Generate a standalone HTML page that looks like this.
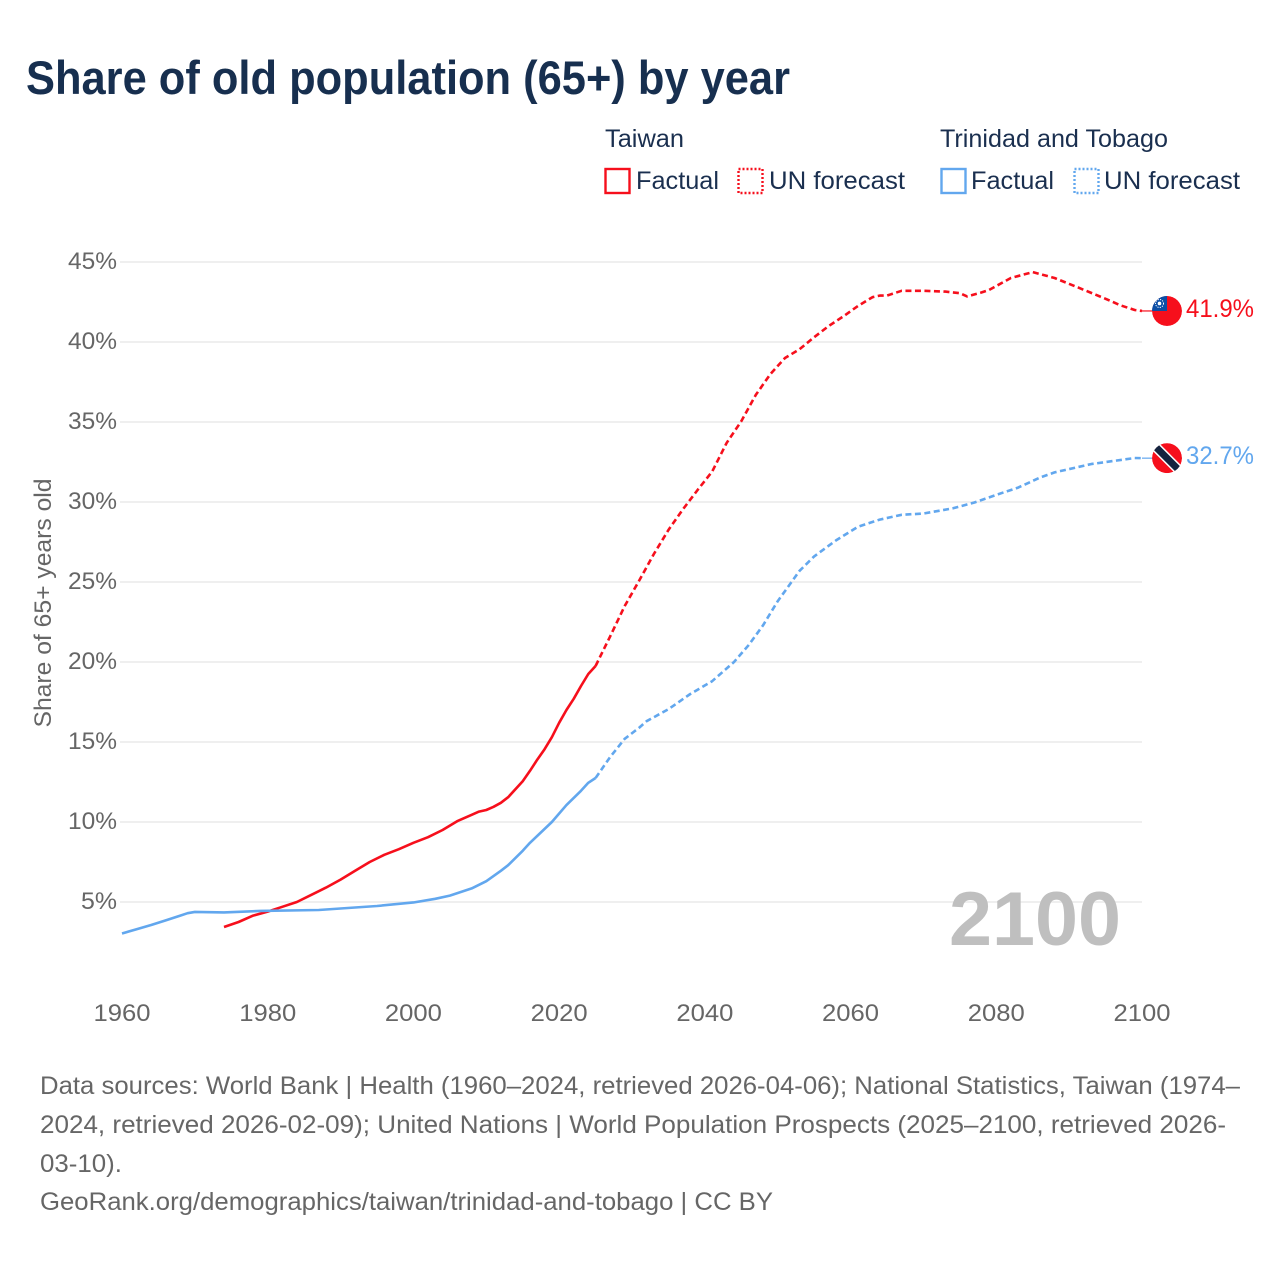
<!DOCTYPE html>
<html>
<head>
<meta charset="utf-8">
<title>Share of old population (65+) by year</title>
<style>
html,body{margin:0;padding:0;background:#fff;width:1280px;height:1280px;overflow:hidden}
svg{display:block}
text{font-family:"Liberation Sans",sans-serif}
.legend{fill:#1a2f4f;font-size:25px}
.tick{fill:#666;font-size:24px}
.foot{fill:#666;font-size:25px}
</style>
</head>
<body>
<svg id="chart" width="1280" height="1280" viewBox="0 0 1280 1280">
  <defs>
    <clipPath id="flag-clip"><circle cx="0" cy="0" r="15"/></clipPath>
  </defs>
  <rect x="0" y="0" width="1280" height="1280" fill="#fff"/>
  <text x="26" y="94" font-size="47" font-weight="700" fill="#172f4f" textLength="764" lengthAdjust="spacingAndGlyphs">Share of old population (65+) by year</text>

  <g>
    <text class="legend" x="605" y="147" textLength="79" lengthAdjust="spacingAndGlyphs">Taiwan</text>
    <rect x="605.5" y="169" width="24" height="24" fill="none" stroke="#f60f1c" stroke-width="2.4"/>
    <text class="legend" x="636" y="189" textLength="83" lengthAdjust="spacingAndGlyphs">Factual</text>
    <rect x="738.5" y="169" width="24" height="24" fill="none" stroke="#f60f1c" stroke-width="2.4" stroke-dasharray="2 2"/>
    <text class="legend" x="769" y="189" textLength="136" lengthAdjust="spacingAndGlyphs">UN forecast</text>
    <text class="legend" x="940" y="147" textLength="228" lengthAdjust="spacingAndGlyphs">Trinidad and Tobago</text>
    <rect x="941.5" y="169" width="24" height="24" fill="none" stroke="#62a7ee" stroke-width="2.4"/>
    <text class="legend" x="971" y="189" textLength="83" lengthAdjust="spacingAndGlyphs">Factual</text>
    <rect x="1074.5" y="169" width="24" height="24" fill="none" stroke="#62a7ee" stroke-width="2.4" stroke-dasharray="2 2"/>
    <text class="legend" x="1104" y="189" textLength="136" lengthAdjust="spacingAndGlyphs">UN forecast</text>
  </g>

  <g id="grid"></g>
  <g id="yticks"></g>
  <g id="xticks"></g>
  <text x="51" y="603" transform="rotate(-90 51 603)" text-anchor="middle" font-size="24" fill="#666" textLength="249" lengthAdjust="spacingAndGlyphs">Share of 65+ years old</text>
  <text x="949" y="945" font-size="76" font-weight="700" fill="#bfbfbf" textLength="172" lengthAdjust="spacingAndGlyphs">2100</text>
  <g id="series"></g>

  <g>
    <text class="foot" x="40" y="1094" textLength="1200" lengthAdjust="spacingAndGlyphs">Data sources: World Bank | Health (1960–2024, retrieved 2026-04-06); National Statistics, Taiwan (1974–</text>
    <text class="foot" x="40" y="1133" textLength="1186" lengthAdjust="spacingAndGlyphs">2024, retrieved 2026-02-09); United Nations | World Population Prospects (2025–2100, retrieved 2026-</text>
    <text class="foot" x="40" y="1172" textLength="82" lengthAdjust="spacingAndGlyphs">03-10).</text>
    <text class="foot" x="40" y="1210" textLength="733" lengthAdjust="spacingAndGlyphs">GeoRank.org/demographics/taiwan/trinidad-and-tobago | CC BY</text>
  </g>
</svg>
<script>
var yTickValues = [5, 10, 15, 20, 25, 30, 35, 40, 45];
var xTickYears = [1960, 1980, 2000, 2020, 2040, 2060, 2080, 2100];

var taiwanFactualYears = [1974, 1976, 1978, 1980, 1982, 1984, 1986, 1988, 1990, 1992, 1994, 1996, 1998, 2000, 2002, 2004, 2006, 2008, 2009, 2010, 2011, 2012, 2013, 2015, 2016, 2017, 2018, 2019, 2020, 2021, 2022, 2023, 2024, 2025];
var taiwanFactualValues = [3.44, 3.75, 4.15, 4.4, 4.7, 5.0, 5.45, 5.9, 6.4, 6.95, 7.5, 7.95, 8.3, 8.7, 9.05, 9.5, 10.05, 10.45, 10.65, 10.75, 10.95, 11.2, 11.55, 12.55, 13.2, 13.9, 14.55, 15.3, 16.2, 17.0, 17.7, 18.5, 19.25, 19.75];
var taiwanForecastYears = [2025, 2027, 2029, 2031, 2033, 2035, 2037, 2039, 2041, 2043, 2045, 2047, 2049, 2051, 2053, 2055, 2057, 2059, 2061, 2063, 2064, 2065, 2067, 2070, 2073, 2075, 2076, 2078, 2079, 2080, 2082, 2085, 2088, 2091, 2095, 2097, 2099, 2100];
var taiwanForecastValues = [19.75, 21.6, 23.5, 25.1, 26.75, 28.25, 29.55, 30.75, 31.9, 33.7, 35.05, 36.7, 38.0, 39.0, 39.55, 40.3, 41.0, 41.6, 42.25, 42.8, 42.9, 42.9, 43.2, 43.2, 43.15, 43.05, 42.85, 43.1, 43.25, 43.5, 44.0, 44.37, 44.0, 43.45, 42.7, 42.3, 42.0, 41.94];

var trinidadFactualYears = [1960, 1962, 1964, 1966, 1968, 1969, 1970, 1974, 1979, 1987, 1995, 2000, 2003, 2005, 2008, 2010, 2012, 2013, 2015, 2016, 2019, 2021, 2023, 2024, 2025];
var trinidadFactualValues = [3.03, 3.3, 3.56, 3.85, 4.15, 4.3, 4.38, 4.35, 4.44, 4.5, 4.75, 4.97, 5.2, 5.4, 5.85, 6.3, 6.95, 7.3, 8.2, 8.7, 10.0, 11.06, 11.95, 12.45, 12.75];
var trinidadForecastYears = [2025, 2027, 2029, 2031, 2032, 2035, 2038, 2041, 2044, 2046, 2048, 2050, 2053, 2055, 2058, 2061, 2064, 2067, 2070, 2074, 2077, 2081, 2083, 2086, 2088, 2093, 2096, 2099, 2100];
var trinidadForecastValues = [12.75, 14.06, 15.2, 15.9, 16.3, 17.05, 18.0, 18.8, 20.0, 21.05, 22.3, 23.8, 25.7, 26.6, 27.6, 28.45, 28.9, 29.2, 29.28, 29.6, 29.97, 30.6, 30.9, 31.53, 31.85, 32.37, 32.56, 32.75, 32.74];

var NS = 'http://www.w3.org/2000/svg';
var RED = '#f60f1c';
var BLUE = '#62a7ee';

function xScale(year) { return 122 + (year - 1960) * (1020 / 140); }
function yScale(value) { return 982 - value * 16; }

function make(tag, attrs, parent) {
  var el = document.createElementNS(NS, tag);
  for (var k in attrs) { el.setAttribute(k, attrs[k]); }
  parent.appendChild(el);
  return el;
}

var grid = document.getElementById('grid');
var yticks = document.getElementById('yticks');
var xticks = document.getElementById('xticks');
var series = document.getElementById('series');

yTickValues.forEach(function (v) {
  var line = make('line', { x1: 120, x2: 1142, y1: yScale(v), y2: yScale(v), stroke: '#efefef', 'stroke-width': 2 }, grid);
  
  
  var label = make('text', { x: 117, y: yScale(v) + 7, 'text-anchor': 'end', class: 'tick' }, yticks);
  label.textContent = v + '%';
  
  
  label.setAttribute('textLength', v < 10 ? 36 : 49);
  label.setAttribute('lengthAdjust', 'spacingAndGlyphs');
});

xTickYears.forEach(function (year) {
  var label = make('text', { x: xScale(year), y: 1021, 'text-anchor': 'middle', class: 'tick' }, xticks);
  label.textContent = String(year);
  
  
  label.setAttribute('textLength', 57);
  label.setAttribute('lengthAdjust', 'spacingAndGlyphs');
});

function linePath(years, values) {
  return years.map(function (yr, i) {
    return (i ? 'L' : 'M') + xScale(yr).toFixed(2) + ' ' + yScale(values[i]).toFixed(2);
  }).join(' ');
}

function drawLine(years, values, color, dashed, name) {
  var attrs = { d: linePath(years, values), fill: 'none', stroke: color, 'stroke-width': 2.6, 'stroke-linejoin': 'round' };
  if (dashed) { attrs['stroke-dasharray'] = '6 3.5'; }
  var path = make('path', attrs, series);
  
  
}

drawLine(taiwanFactualYears, taiwanFactualValues, RED, false, 'taiwan-factual-line');
drawLine(taiwanForecastYears, taiwanForecastValues, RED, true, 'taiwan-forecast-line');
drawLine(trinidadFactualYears, trinidadFactualValues, BLUE, false, 'trinidad-factual-line');
drawLine(trinidadForecastYears, trinidadForecastValues, BLUE, true, 'trinidad-forecast-line');

function drawEnd(values, color, name) {
  var last = values[values.length - 1];
  var x = xScale(2100);
  var y = yScale(last);
  var connector = make('line', { x1: x, x2: x + 10, y1: y, y2: y, stroke: color, 'stroke-width': 1.2 }, series);
  
  
  var flag = make('g', { transform: 'translate(' + (x + 25) + ' ' + y + ')', 'clip-path': 'url(#flag-clip)' }, series);
  
  
  make('circle', { cx: 0, cy: 0, r: 15, fill: '#f60f1c' }, flag);
  var label = make('text', { x: x + 44, y: y + 6, 'font-size': 25, fill: color }, series);
  label.textContent = last.toFixed(1) + '%';
  
  
  label.setAttribute('textLength', 68);
  label.setAttribute('lengthAdjust', 'spacingAndGlyphs');
  return flag;
}

var twFlag = drawEnd(taiwanForecastValues, RED, 'taiwan');
make('rect', { x: -15, y: -15, width: 15, height: 15, fill: '#0a4ea6' }, twFlag);
make('circle', { cx: -7.5, cy: -7.5, r: 1.8, fill: '#fff' }, twFlag);
make('circle', { cx: -7.5, cy: -7.5, r: 4, fill: 'none', stroke: '#fff', 'stroke-width': 1, 'stroke-dasharray': '1.2 1.2' }, twFlag);

var ttFlag = drawEnd(trinidadForecastValues, BLUE, 'trinidad');
make('line', { x1: -14, y1: -14, x2: 14, y2: 14, stroke: '#fff', 'stroke-width': 10 }, ttFlag);
make('line', { x1: -14, y1: -14, x2: 14, y2: 14, stroke: '#15233f', 'stroke-width': 7 }, ttFlag);
</script>
</body>
</html>
